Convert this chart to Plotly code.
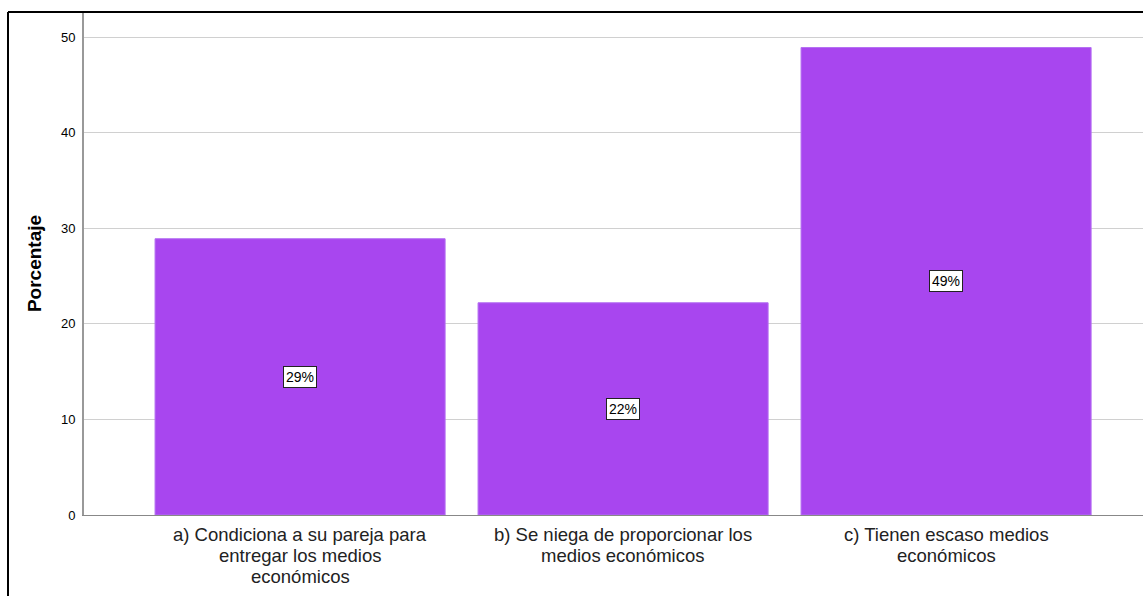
import plotly.graph_objects as go

categories = [
    "a) Condiciona a su pareja para<br>entregar los medios<br>económicos",
    "b) Se niega de proporcionar los<br>medios económicos",
    "c) Tienen escaso medios<br>económicos",
]
values = [28.9, 22.2, 48.9]
labels = ["29%", "22%", "49%"]
y_ticks = [0, 10, 20, 30, 40, 50]

W, H = 1143, 596
ml, mr, mt, mb = 84, 0, 12, 81
plot_w = W - ml - mr
plot_h = H - mt - mb
px_per_cat = 323.0
px_per_unit = 9.56

FONT = "Liberation Sans, Arial, sans-serif"

fig = go.Figure()
fig.add_trace(go.Bar(
    x=list(range(len(categories))), y=values,
    marker=dict(color="#a846ef", line=dict(color="#b470f2", width=1)),
    width=0.898,
    hoverinfo="skip",
))

# value labels in white boxes at mid-height of each bar
for i, (v, lab) in enumerate(zip(values, labels)):
    fig.add_annotation(
        x=i, y=v / 2, text=lab, showarrow=False,
        font=dict(family=FONT, size=14, color="black"),
        bgcolor="white", bordercolor="#222222", borderwidth=1, borderpad=2,
    )

# category labels with tight line spacing
line_offsets = [-19, -40, -61]
for i, cat in enumerate(categories):
    for k, line in enumerate(cat.split("<br>")):
        fig.add_annotation(
            x=i, xref="x", y=0, yref="paper", text=line, showarrow=False,
            yanchor="middle", yshift=line_offsets[k], borderpad=0,
            font=dict(family=FONT, size=18.5, color="#222222"),
        )

# outer frame (left and top edges)
frame_x = (8 - ml) / plot_w
fig.add_shape(type="line", xref="paper", yref="paper",
              x0=frame_x, x1=1.05, y0=1.0, y1=1.0,
              line=dict(color="black", width=2), layer="above")
fig.add_shape(type="line", xref="paper", yref="paper",
              x0=frame_x, x1=frame_x, y0=1.0, y1=-0.3,
              line=dict(color="black", width=2), layer="above")

fig.update_layout(
    width=W, height=H,
    margin=dict(l=ml, r=mr, t=mt, b=mb, autoexpand=False),
    paper_bgcolor="white", plot_bgcolor="white",
    showlegend=False,
    font=dict(family=FONT, color="black"),
    xaxis=dict(
        range=[-0.669, -0.669 + plot_w / px_per_cat],
        tickmode="array", tickvals=list(range(len(categories))),
        showticklabels=False,
        showline=True, linecolor="#888888", linewidth=1,
        ticks="", showgrid=False, zeroline=False, fixedrange=True,
    ),
    yaxis=dict(
        range=[0, plot_h / px_per_unit],
        tickmode="array", tickvals=y_ticks, ticktext=[str(t) for t in y_ticks],
        tickfont=dict(size=13, color="black"),
        ticklabelstandoff=4,
        showline=True, linecolor="#999999", linewidth=2,
        showgrid=True, gridcolor="#d0d0d0", gridwidth=1,
        zeroline=False, ticks="", ticklen=0,
        fixedrange=True,
        title=dict(text="<b>Porcentaje</b>", font=dict(size=19, color="black"), standoff=14),
    ),
)

fig.write_html(
    "out.html",
    config={"displayModeBar": False},
    post_script="document.body.style.margin='0';document.body.style.overflow='hidden';",
)
